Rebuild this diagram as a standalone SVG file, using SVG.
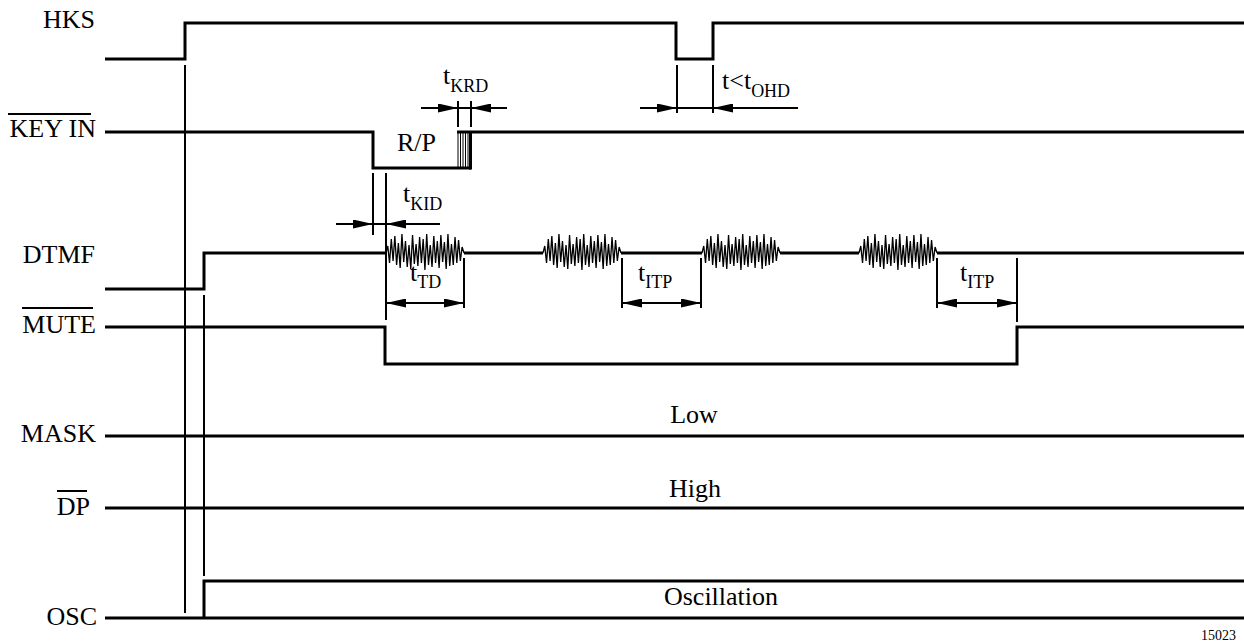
<svg xmlns="http://www.w3.org/2000/svg" width="1244" height="644" viewBox="0 0 1244 644" font-family="'Liberation Serif', 'Times New Roman', 'DejaVu Serif', serif">
<style>
.sig{fill:none;stroke:#000;stroke-width:3;stroke-linejoin:miter;stroke-linecap:butt}
.thin{fill:none;stroke:#000;stroke-width:2}
.hatch{fill:none;stroke:#000;stroke-width:1}
.noise{fill:none;stroke:#000;stroke-width:1.3;stroke-linejoin:miter}
.dim{fill:none;stroke:#000;stroke-width:2}
.arr{marker-end:url(#ah)}
.arr2{marker-start:url(#ah);marker-end:url(#ah)}
text{font-family:'Liberation Serif','Times New Roman','DejaVu Serif',serif;fill:#000}
.lbl{font-size:26px;text-anchor:end}
.mid{font-size:26px;text-anchor:middle}
.t{font-size:26px}
.sub{font-size:18px}
.ref{font-size:14px;text-anchor:end}
</style>
<defs>
<marker id="ah" viewBox="0 0 20 9" refX="20" refY="4.5" markerWidth="20" markerHeight="9" markerUnits="userSpaceOnUse" orient="auto-start-reverse">
<path d="M0,0 L20,4.5 L0,9 z" fill="#000"/>
</marker>
<path id="burst" class="noise" d="M0,0 L1.77,-7 L3.54,10 L5.31,-14 L7.08,8 L8.85,-17 L10.62,12 L12.39,-10 L14.16,15 L15.93,-19 L17.7,9 L19.47,-12 L21.24,14 L23.01,-8 L24.78,16 L26.55,-18 L28.32,11 L30.09,-9 L31.86,13 L33.63,-16 L35.4,10 L37.17,-14 L38.94,17 L40.71,-19 L42.48,12 L44.25,-8 L46.02,14 L47.79,-17 L49.56,10 L51.33,-12 L53.1,15 L54.87,-18 L56.64,9 L58.41,-11 L60.18,16 L61.95,-19 L63.72,13 L65.49,-9 L67.26,12 L69.03,-16 L70.8,10 L72.57,-13 L74.34,8 L76.11,-6 L78,0"/>
</defs>
<rect width="1244" height="644" fill="#fff"/>

<g id="HKS">
<text class="lbl" x="95" y="28">HKS</text>
<path class="sig" d="M105,59 H185 V23 H676 V59 H713 V23 H1244"/>
</g>

<g id="KEYIN">
<text class="lbl" x="96" y="137">KEY IN</text>
<line class="thin" x1="8" y1="114" x2="91" y2="114"/>
<path class="sig" d="M105,132 H373 V168 H471"/>
<path class="sig" d="M457,132 H1244"/>
<path class="hatch" d="M458,132 V168 M460.5,132 V168 M463,132 V168 M465.5,132 V168 M468,132 V168"/>
<line class="sig" x1="470.5" y1="132" x2="470.5" y2="169.5"/>
<text class="t" x="397" y="151">R/P</text>
</g>

<g id="DTMF">
<text class="lbl" x="95" y="263">DTMF</text>
<path class="sig" d="M105,289 H204 V253 H386"/>
<line class="sig" x1="464" y1="253" x2="543" y2="253"/>
<line class="sig" x1="621" y1="253" x2="702" y2="253"/>
<line class="sig" x1="780" y1="253" x2="859" y2="253"/>
<line class="sig" x1="937" y1="253" x2="1244" y2="253"/>
<use href="#burst" x="386" y="253"/>
<use href="#burst" x="543" y="253"/>
<use href="#burst" x="702" y="253"/>
<use href="#burst" x="859" y="253"/>
</g>

<g id="MUTE">
<text class="lbl" x="96" y="333">MUTE</text>
<line class="thin" x1="22" y1="308" x2="93" y2="308"/>
<path class="sig" d="M105,327 H385 V364 H1017 V327 H1244"/>
</g>

<g id="MASK">
<text class="lbl" x="96" y="442">MASK</text>
<line class="sig" x1="105" y1="436" x2="1244" y2="436"/>
<text class="mid" x="694" y="423">Low</text>
</g>

<g id="DP">
<text class="lbl" x="90" y="515">DP</text>
<line class="thin" x1="57" y1="491" x2="87" y2="491"/>
<line class="sig" x1="105" y1="508" x2="1244" y2="508"/>
<text class="mid" x="695" y="497">High</text>
</g>

<g id="OSC">
<text class="lbl" x="97" y="625">OSC</text>
<path class="sig" d="M105,618 H1244"/>
<path class="sig" d="M204,618 V581 H1244"/>
<text class="mid" x="721" y="605">Oscillation</text>
</g>

<g id="connectors">
<line class="thin" x1="185" y1="65" x2="185" y2="613"/>
<line class="thin" x1="204" y1="295" x2="204" y2="576"/>
<line class="thin" x1="458" y1="101" x2="458" y2="127"/>
<line class="thin" x1="471" y1="101" x2="471" y2="127"/>
<line class="dim" x1="458" y1="108" x2="471" y2="108"/>
<line class="dim arr" x1="421" y1="108" x2="458" y2="108"/>
<line class="dim arr" x1="507" y1="108" x2="471" y2="108"/>
<line class="thin" x1="677" y1="65" x2="677" y2="113"/>
<line class="thin" x1="713" y1="65" x2="713" y2="113"/>
<line class="dim" x1="677" y1="108" x2="713" y2="108"/>
<line class="dim arr" x1="640" y1="108" x2="677" y2="108"/>
<line class="dim arr" x1="798" y1="108" x2="713" y2="108"/>
<line class="thin" x1="373" y1="173" x2="373" y2="235"/>
<line class="thin" x1="386" y1="173" x2="386" y2="320"/>
<line class="dim" x1="373" y1="224" x2="386" y2="224"/>
<line class="dim arr" x1="336" y1="224" x2="373" y2="224"/>
<line class="dim arr" x1="440" y1="224" x2="386" y2="224"/>
<line class="thin" x1="464" y1="258" x2="464" y2="308"/>
<line class="dim arr2" x1="386" y1="303" x2="464" y2="303"/>
<line class="thin" x1="622" y1="258" x2="622" y2="308"/>
<line class="thin" x1="701" y1="258" x2="701" y2="308"/>
<line class="dim arr2" x1="622" y1="303" x2="701" y2="303"/>
<line class="thin" x1="937" y1="258" x2="937" y2="308"/>
<line class="thin" x1="1017" y1="258" x2="1017" y2="322"/>
<line class="dim arr2" x1="937" y1="303" x2="1017" y2="303"/>
</g>

<g id="timing-labels">
<text class="t" x="443" y="84">t<tspan class="sub" dy="8">KRD</tspan></text>
<text class="t" x="722" y="89">t&lt;t<tspan class="sub" dy="8">OHD</tspan></text>
<text class="t" x="403" y="202">t<tspan class="sub" dy="8">KID</tspan></text>
<text class="t" x="410" y="281">t<tspan class="sub" dy="7">TD</tspan></text>
<text class="t" x="638" y="281">t<tspan class="sub" dy="7">ITP</tspan></text>
<text class="t" x="960" y="281">t<tspan class="sub" dy="7">ITP</tspan></text>
</g>

<text class="ref" x="1236" y="640">15023</text>
</svg>
